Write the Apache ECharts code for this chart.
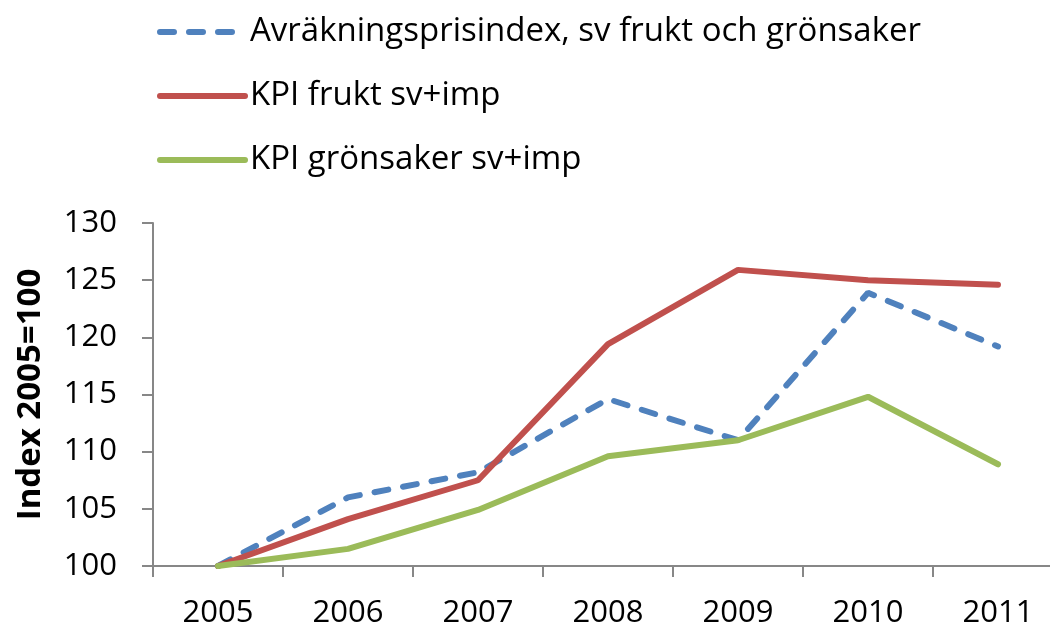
<!DOCTYPE html>
<html>
<head>
<meta charset="utf-8">
<script src="https://cdn.jsdelivr.net/npm/echarts@6/dist/echarts.min.js"></script>
<style>
  html, body { margin: 0; padding: 0; background: #fff; }
  #chart { width: 1050px; height: 631px; }
</style>
</head>
<body>
<div id="chart"></div>
<script>
const years = ["2005", "2006", "2007", "2008", "2009", "2010", "2011"];
const avrakning = [100, 106.0, 108.2, 114.6, 111.0, 123.9, 119.2];
const kpiFrukt = [100, 104.1, 107.5, 119.4, 125.9, 125.0, 124.6];
const kpiGronsaker = [100, 101.5, 104.9, 109.6, 111.0, 114.8, 108.9];

const font = "Open Sans";
const axisGrey = "#878787";

const chart = echarts.init(document.getElementById("chart"));

chart.setOption({
  animation: false,
  // legend stacked at the top, like the excel original
  legend: {
    orient: "vertical",
    left: 152,
    top: 10,
    itemWidth: 85,
    itemHeight: 14,
    itemGap: 30,
    itemStyle: { opacity: 0 },
    lineStyle: { width: 6, cap: "round" },
    textStyle: { fontFamily: font, fontSize: 33, color: "#000", lineHeight: 34 },
    data: [
      "Avräkningsprisindex, sv frukt och grönsaker",
      "KPI frukt sv+imp",
      "KPI grönsaker sv+imp"
    ]
  },
  grid: {
    left: 153,
    top: 223,
    width: 910,
    height: 343,
    outerBoundsMode: "none"
  },
  xAxis: {
    type: "category",
    data: years,
    boundaryGap: true,
    axisLine: { lineStyle: { color: axisGrey, width: 2 } },
    axisTick: { show: true, length: 11, lineStyle: { color: axisGrey, width: 2 } },
    axisLabel: { fontFamily: font, fontSize: 31, color: "#000", margin: 32 }
  },
  yAxis: {
    type: "value",
    min: 100,
    max: 130,
    interval: 5,
    name: "Index 2005=100",
    nameLocation: "middle",
    nameGap: 106,
    nameTextStyle: { fontFamily: font, fontSize: 33, fontWeight: "bold", color: "#000" },
    axisLine: { show: true, lineStyle: { color: axisGrey, width: 2 } },
    axisTick: { show: true, length: 11, lineStyle: { color: axisGrey, width: 2 } },
    axisLabel: { fontFamily: font, fontSize: 31, color: "#000", margin: 36 },
    splitLine: { show: false }
  },
  series: [
    {
      name: "Avräkningsprisindex, sv frukt och grönsaker",
      type: "line",
      data: avrakning,
      symbol: "none",
      lineStyle: { color: "#4F81BD", width: 6, type: [14, 15], cap: "round" },
      itemStyle: { color: "#4F81BD" }
    },
    {
      name: "KPI frukt sv+imp",
      type: "line",
      data: kpiFrukt,
      symbol: "none",
      lineStyle: { color: "#C0504D", width: 6, cap: "round" },
      itemStyle: { color: "#C0504D" }
    },
    {
      name: "KPI grönsaker sv+imp",
      type: "line",
      data: kpiGronsaker,
      symbol: "none",
      lineStyle: { color: "#9BBB59", width: 6, cap: "round" },
      itemStyle: { color: "#9BBB59" }
    }
  ]
});
</script>
</body>
</html>
